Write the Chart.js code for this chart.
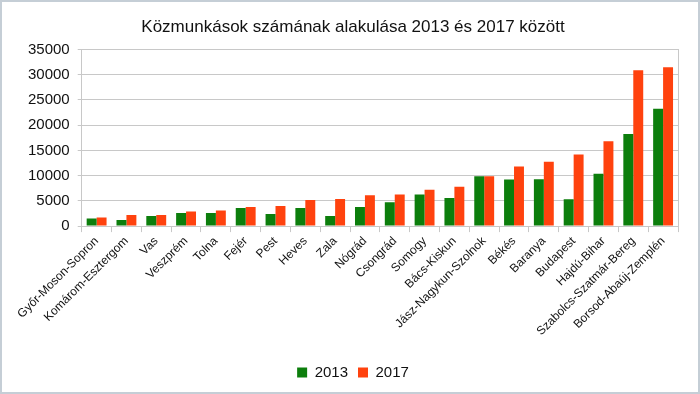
<!DOCTYPE html>
<html>
<head>
<meta charset="utf-8">
<script src="https://cdn.jsdelivr.net/npm/chart.js@4/dist/chart.umd.min.js"></script>
<style>
html,body{margin:0;padding:0;background:#fff}
#wrap{width:700px;height:394px;box-sizing:border-box;border:2px solid #c5ced6;position:relative}
</style>
</head>
<body>
<div id="wrap"><canvas id="chart"></canvas></div>
<script>
var megyek = ["Győr-Moson-Sopron","Komárom-Esztergom","Vas","Veszprém","Tolna","Fejér","Pest","Heves","Zala","Nógrád",
    "Csongrád","Somogy","Bács-Kiskun","Jász-Nagykun-Szolnok","Békés","Baranya","Budapest","Hajdú-Bihar",
    "Szabolcs-Szatmár-Bereg","Borsod-Abaúj-Zemplén"]
var ertek2013 = [1500,1200,2000,2600,2600,3600,2400,3600,2000,3800,
    4700,6250,5550,9850,9250,9300,5300,10350,18250,23250]
var ertek2017 = [1700,2200,2200,2900,3100,3800,4000,5150,5350,6100,
    6250,7200,7800,9850,11800,12750,14200,16800,30850,31450]
var yTicks = [0,5000,10000,15000,20000,25000,30000,35000]

var gridColor = "#c8c8c8"
var ctx = document.getElementById("chart").getContext("2d")
var config = {
    type: 'bar',
    data: {
        labels: megyek,
        datasets: [
            {label: "2013", data: ertek2013, backgroundColor: "#0c7e0c", categoryPercentage: 0.667, barPercentage: 1.0},
            {label: "2017", data: ertek2017, backgroundColor: "#ff420e", categoryPercentage: 0.667, barPercentage: 1.0}
        ]
    },
    options: {
        responsive: true,
        maintainAspectRatio: false,
        animation: false,
        layout: {padding: {left: 18, right: 12, top: 4, bottom: 2}},
        plugins: {
            title: {
                display: true,
                text: "Közmunkások számának alakulása 2013 és 2017 között",
                color: "#111",
                font: {family: "Liberation Sans", size: 17, weight: 'normal'},
                padding: {top: 11, bottom: 12}
            },
            legend: {
                position: 'bottom',
                labels: {
                    color: "#111",
                    font: {family: "Liberation Sans", size: 15},
                    boxWidth: 10,
                    boxHeight: 10,
                    padding: 10
                }
            },
            tooltip: {enabled: false}
        },
        scales: {
            x: {
                grid: {display: true, drawOnChartArea: false, offset: true, color: gridColor, tickLength: 6},
                border: {display: true, color: gridColor},
                title: {display: true, text: " ", font: {size: 12}, padding: 0},
                ticks: {
                    color: "#111",
                    font: {family: "Liberation Sans", size: 12},
                    minRotation: 45,
                    maxRotation: 45,
                    autoSkip: false,
                    padding: 2
                }
            },
            y: {
                min: 0,
                max: 35000,
                afterBuildTicks: function (axis) {
                    axis.ticks = yTicks.map(function (v) { return {value: v} })
                },
                grid: {color: gridColor, tickLength: 4},
                border: {display: true, color: gridColor},
                ticks: {
                    color: "#111",
                    font: {family: "Liberation Sans", size: 15},
                    padding: 8,
                    callback: function (v) { return String(v) }
                }
            },
            y2: {
                position: 'right',
                min: 0,
                max: 35000,
                grid: {display: false},
                border: {display: true, color: gridColor},
                ticks: {display: false}
            }
        }
    }
}
var chart = new Chart(ctx, config)
</script>
</body>
</html>
